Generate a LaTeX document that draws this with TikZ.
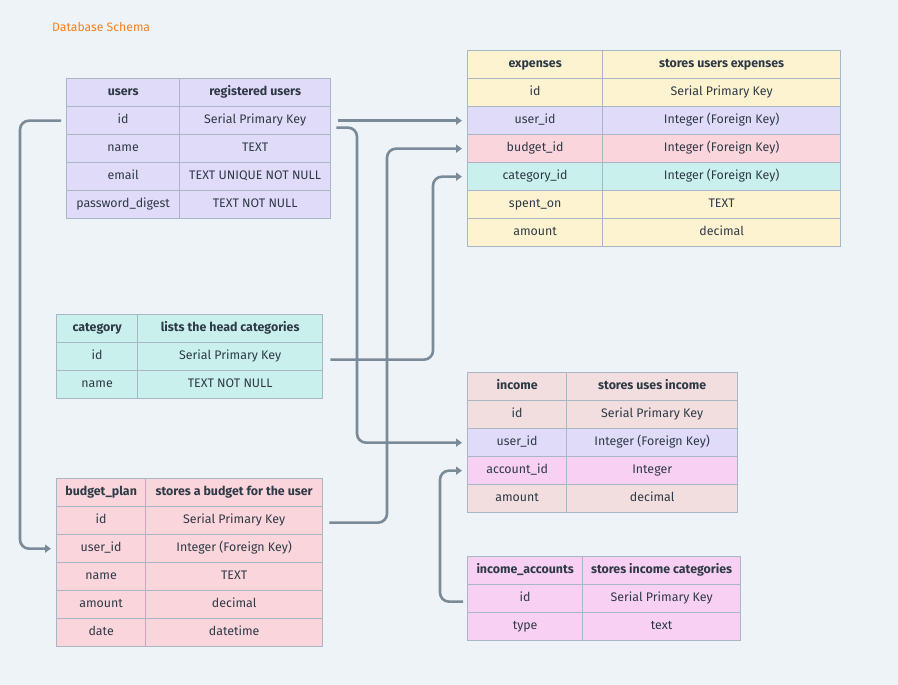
\documentclass[tikz,border=0pt]{standalone}
\usepackage{fontspec}
\setmainfont{Fira Sans}
\usepackage{xcolor}
\usepackage{tikz}
\usetikzlibrary{positioning, arrows.meta}

\definecolor{bgcol}{HTML}{EEF3F7}
\definecolor{linecol}{HTML}{A9B7C4}
\definecolor{arrowcol}{HTML}{7B8A99}
\definecolor{textcol}{HTML}{2E3A46}
\definecolor{titlecol}{HTML}{F7801E}
\definecolor{usercol}{HTML}{E1DBFA}
\definecolor{expcol}{HTML}{FDF3D1}
\definecolor{budgetcol}{HTML}{FBD5DC}
\definecolor{catcol}{HTML}{C9F0EC}
\definecolor{incomecol}{HTML}{F2DEDE}
\definecolor{acccol}{HTML}{F8D0F3}

% table: name, left, top, first column width, second column width, rows
\newcommand{\dbtable}[6]{%
  \foreach \fld/\typ/\clr [count=\i from 0] in {#6} {
    \node[cell_style, fill=\clr, minimum width=#4] (#1-\i-a) at (#2, {#3+28*\i}) {\fld};
    \node[cell_style, fill=\clr, minimum width=#5] (#1-\i-b) at ({#2+#4}, {#3+28*\i}) {\typ};
  }%
}

\begin{document}
\begin{tikzpicture}[
    x=1pt, y=-1pt,
    cell_style/.style={rectangle, draw=linecol, line width=1.3pt, minimum height=28pt,
      inner sep=0pt, text height=9pt, text depth=3pt, anchor=north west, text=textcol,
      font=\fontsize{12.4}{14}\selectfont},
    title_style/.style={text=titlecol, font=\fontsize{12.2}{14}\selectfont, anchor=west, inner sep=0pt},
    conn/.style={arrowcol, line width=2.6pt, rounded corners=9pt, -{Triangle[length=6pt,width=8pt]}}
]
    % Background
    \fill[bgcol] (0,0) rectangle (898,685);
    \useasboundingbox (0,0) rectangle (898,685);

    \node[title_style] (title) at (52,27) {Database Schema};

    % Tables
    \dbtable{users}{66}{78}{113}{151}{\textbf{users}/\textbf{registered users}/usercol,
      id/Serial Primary Key/usercol, name/TEXT/usercol,
      email/TEXT UNIQUE NOT NULL/usercol, password\_digest/TEXT NOT NULL/usercol}

    \dbtable{expenses}{467}{50}{135}{238}{\textbf{expenses}/\textbf{stores users expenses}/expcol,
      id/Serial Primary Key/expcol, user\_id/Integer (Foreign Key)/usercol,
      budget\_id/Integer (Foreign Key)/budgetcol, category\_id/Integer (Foreign Key)/catcol,
      spent\_on/TEXT/expcol, amount/decimal/expcol}

    \dbtable{category}{56}{314}{81}{185}{\textbf{category}/\textbf{lists the head categories}/catcol,
      id/Serial Primary Key/catcol, name/TEXT NOT NULL/catcol}

    \dbtable{budget}{56}{478}{89}{177}{\textbf{budget\_plan}/\textbf{stores a budget for the user}/budgetcol,
      id/Serial Primary Key/budgetcol, user\_id/Integer (Foreign Key)/budgetcol,
      name/TEXT/budgetcol, amount/decimal/budgetcol, date/datetime/budgetcol}

    \dbtable{income}{467}{372}{99}{171}{\textbf{income}/\textbf{stores uses income}/incomecol,
      id/Serial Primary Key/incomecol, user\_id/Integer (Foreign Key)/usercol,
      account\_id/Integer/acccol, amount/decimal/incomecol}

    \dbtable{incacc}{467}{556}{115}{158}{\textbf{income\_accounts}/\textbf{stores income categories}/acccol,
      id/Serial Primary Key/acccol, type/text/acccol}

    % Foreign keys
    \draw[conn] ([xshift=7pt]users-1-b.east) -- ([xshift=-5pt]expenses-2-a.west);
    \draw[conn] ([xshift=5pt,yshift=-7pt]users-1-b.east) -| ([xshift=-110pt]income-2-a.west)
      -- ([xshift=-5pt]income-2-a.west);
    \draw[conn] ([xshift=6pt,yshift=-2pt]budget-1-b.east) -| ([xshift=-80pt]expenses-3-a.west)
      -- ([xshift=-5pt]expenses-3-a.west);
    \draw[conn] ([xshift=7pt,yshift=-3pt]category-1-b.east) -| ([xshift=-34pt]expenses-4-a.west)
      -- ([xshift=-5pt]expenses-4-a.west);
    \draw[conn] ([xshift=-5pt]users-1-a.west) -| ([xshift=-36pt]budget-2-a.west)
      -- ([xshift=-5pt]budget-2-a.west);
    \draw[conn] ([xshift=-4pt,yshift=-3pt]incacc-1-a.west) -| ([xshift=-27pt]income-3-a.west)
      -- ([xshift=-5pt]income-3-a.west);
\end{tikzpicture}
\end{document}
